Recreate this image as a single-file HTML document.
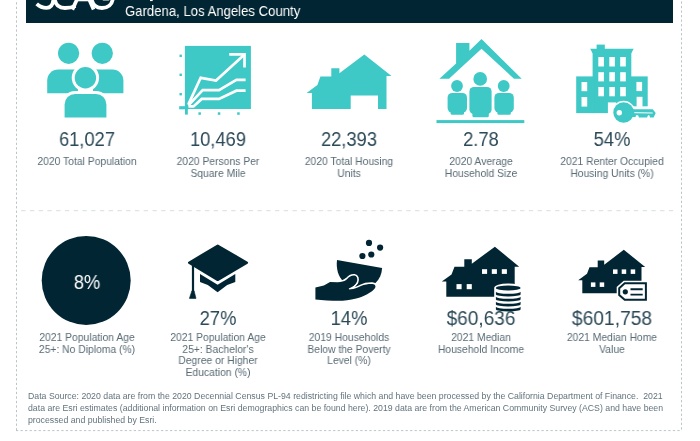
<!DOCTYPE html>
<html><head><meta charset="utf-8">
<style>
html,body{margin:0;padding:0;background:#fff;}
body{width:700px;height:441px;position:relative;overflow:hidden;font-family:"Liberation Sans",sans-serif;}
.hdr{position:absolute;left:25.85px;top:0;width:646.9px;height:22.65px;background:#022533;}
.title{position:absolute;left:125.4px;top:0.5px;font-size:14.6px;line-height:20px;color:#fff;white-space:nowrap;transform:scaleX(0.90);transform-origin:0 0}
.num{position:absolute;width:130px;text-align:center;font-size:19.5px;line-height:20px;color:#2c4957;white-space:nowrap;transform:scaleX(0.94)}
.lbl{position:absolute;width:130px;text-align:center;font-size:11px;line-height:11.7px;color:#596b75;white-space:nowrap;transform:scaleX(0.94)}
.foot{position:absolute;left:27.6px;top:390.5px;font-size:8.4px;line-height:11.9px;color:#62737d;white-space:nowrap;transform:scaleX(1.043);transform-origin:0 0}
svg{position:absolute;left:0;top:0;}
.num,.lbl,.foot,.title{will-change:transform;}
</style></head><body>
<div class="hdr"></div>
<div class="title">Gardena, Los Angeles County</div>

<svg width="700" height="441" viewBox="0 0 700 441">
<!-- borders -->
<g fill="none" stroke="#bcc3c7" stroke-width="1" stroke-dasharray="2.25 2.28">
<path d="M16.5,-2.27V431"/><path d="M681.5,-3.1V431"/><path d="M16,430.6H682"/>
</g>
<path d="M21.15,210.6H673.2" fill="none" stroke="#e0e4e5" stroke-width="1.3" stroke-dasharray="4.35 4.403"/>

<!-- ROW1 ICONS -->
<g id="people" fill="#3ec8c6">
<circle cx="68.6" cy="53.3" r="10.6"/><circle cx="102.3" cy="53.3" r="10.6"/>
<path d="M47.2,93.2V80.6a11,11 0 0 1 11,-11H78V93.2Z"/>
<path d="M123.4,93.2V80.6a11,11 0 0 0 -11,-11H93V93.2Z"/>
<circle cx="85.4" cy="77.8" r="13.7" fill="#fff" />
<path d="M61.6,118V104.4a13.5,13.5 0 0 1 13.5,-13.5H95.9a13.5,13.5 0 0 1 13.5,13.5V118Z" fill="#fff"/>
<circle cx="85.4" cy="77.8" r="10.7"/>
<path d="M64.6,117.6V104.4a10.5,10.5 0 0 1 10.5,-10.5H95.9a10.5,10.5 0 0 1 10.5,10.5V117.6Z"/>
</g>
<g id="chart">
<rect x="184.9" y="45.9" width="66" height="63.1" fill="#3ec8c6"/>
<rect x="179.2" y="106.2" width="9" height="3.1" fill="#3ec8c6"/>
<rect x="185" y="105" width="2.8" height="9.6" fill="#3ec8c6"/>
<g fill="#3ec8c6">
<rect x="179.5" y="54.6" width="2.4" height="2.4"/><rect x="179.5" y="73.6" width="2.4" height="2.4"/><rect x="179.5" y="93" width="2.4" height="2.4"/>
<rect x="198.4" y="112.3" width="2.5" height="2.5"/><rect x="217.8" y="112.3" width="2.5" height="2.5"/><rect x="237.2" y="112.3" width="2.5" height="2.5"/>
</g>
<g fill="none" stroke="#fff" stroke-width="2.7" stroke-linejoin="miter">
<path d="M188.4,104.4L200.7,77.8L216,80.5L244.5,54.4"/>
<path d="M229.2,54.4H244.5V67.6"/>
<path d="M188.4,105.4L202.7,90.1H219L236.4,79.9H245.6"/>
<path d="M188.4,106.4H193.5L201.7,98.9H219L236.4,90.7H245.6"/>
</g>
</g>
<path id="house" fill="#3ec8c6" d="M306.6,92.9L317.4,85L320.4,76.4H331.3V68.2H339.4V73.3L364.3,54.4L391.5,76.1H386.5V109.1H378V95.6H350.7V109.1H311.9V92.9Z"/>
<g id="family" fill="#3ec8c6">
<path d="M439.4,78.8L456.1,63.6V43.1H469.4V50.7L481.5,39.1L521.7,78.8H514L481.5,48.8L449,78.8Z"/>
<circle cx="480.2" cy="78.9" r="6.8"/><rect x="469.4" y="87" width="22.2" height="27" rx="4.5"/><rect x="472.4" y="110" width="16.4" height="7.2" rx="1.5"/>
<circle cx="457" cy="86" r="5.9"/><rect x="447.6" y="93" width="19.4" height="19.6" rx="4.5"/><rect x="450.6" y="108" width="13.4" height="6.8" rx="1.5"/>
<circle cx="503.7" cy="86" r="5.9"/><rect x="494.4" y="93" width="19.4" height="19.6" rx="4.5"/><rect x="497.4" y="108" width="13.4" height="6.8" rx="1.5"/>
<rect x="436.5" y="120.1" width="87.8" height="3"/>
</g>
<g id="bldg">
<g fill="#3ec8c6">
<rect x="596.6" y="44.6" width="8.2" height="5"/>
<path d="M590.2,48.7H633.7L631.3,53.2H592.6Z"/>
<rect x="592.6" y="51" width="38.7" height="62.1"/>
<rect x="576.2" y="76.4" width="18" height="36.7"/>
<rect x="630" y="76.4" width="17.7" height="29.9"/>
</g>
<g fill="#fff">
<rect x="598.3" y="57" width="5.6" height="9.5"/><rect x="609.3" y="57" width="5.6" height="9.5"/><rect x="620.2" y="57" width="5.6" height="9.5"/>
<rect x="598.3" y="72.2" width="5.6" height="9.2"/><rect x="609.3" y="72.2" width="5.6" height="9.2"/><rect x="620.2" y="72.2" width="5.6" height="9.2"/>
<rect x="598.3" y="87" width="5.6" height="9.3"/><rect x="609.3" y="87" width="5.6" height="9.3"/><rect x="620.2" y="87" width="5.6" height="9.3"/>
<rect x="581.5" y="82" width="5.7" height="9.2"/><rect x="581.5" y="97" width="5.7" height="9.6"/>
<rect x="636.4" y="81.9" width="5.7" height="9.2"/><rect x="636.6" y="96.8" width="5.9" height="10"/><rect x="607.9" y="102.4" width="8.3" height="12"/>
</g>
<g stroke="#fff" stroke-width="3" fill="#fff" stroke-linejoin="round">
<circle cx="623.6" cy="112.5" r="10.3"/>
<path d="M631,109.3H652.7L655.7,113.1L653.6,117.4H650.1L649.3,115.3H648L647.1,117.4H639L638.1,115.3H636L635.6,117H631Z"/>
</g>
<g fill="#3ec8c6">
<circle cx="623.6" cy="112.5" r="10.3"/>
<path d="M631,109.3H652.7L655.7,113.1L653.6,117.4H650.1L649.3,115.3H648L647.1,117.4H639L638.1,115.3H636L635.6,117H631Z"/>
</g>
<circle cx="619.3" cy="112.7" r="2.7" fill="#fff"/>
<path d="M634.3,112.7L652.7,113" stroke="#fff" stroke-width="1" fill="none"/>
</g>
<!-- ROW2 ICONS -->
<circle cx="86.2" cy="280.45" r="44.5" fill="#022533"/>
<g id="cap" fill="#022533">
<path d="M200,273.9L217.6,284.7L235.3,273.9V282L227.2,285.1L217.6,292.2L207.8,285.1L200,282Z"/>
<path d="M189.2,262.7L217.7,245.7L246.9,262.7L217.7,279.9Z" stroke="#fff" stroke-width="5.2" stroke-linejoin="round"/>
<path d="M189.2,262.7L217.7,245.7L246.9,262.7L217.7,279.9Z" stroke="#022533" stroke-width="2.4" stroke-linejoin="round"/>
<rect x="191.9" y="263" width="2.2" height="29"/>
<path d="M191.9,290.8H194.1L196,298.4H189.4Z" stroke="#022533" stroke-width="0.6" stroke-linejoin="round"/>
</g>
<g id="pov" fill="#022533">
<circle cx="369" cy="242.9" r="3.1"/><circle cx="380.1" cy="247.6" r="3.1"/><circle cx="371.3" cy="254.5" r="3.1"/><circle cx="362.4" cy="256" r="3.1"/>
<path d="M 337.0 259.9 L 382.1 268.1 C 381.8 273.8 379.7 279.2 375.5 283.0 L 356.2 286.9 L 343.1 280.7 C 338.5 276.8 335.9 269.1 337.0 259.9 Z"/>
<path d="M 315.4 287.6 L 323.9 285.6 L 330.0 281.9 L 337.7 282.2 C 340.8 282.2 344.7 281.5 347.0 279.2 C 349.3 276.4 351.6 275.3 354.4 275.5 C 357.0 275.8 358.1 279.2 356.7 282.2 C 355.5 285.0 352.4 286.9 348.5 288.9 C 351.6 289.9 356.2 288.7 360.9 286.1 C 364.7 284.1 369.3 283.8 372.4 283.9 C 375.5 284.1 376.3 286.6 374.7 288.4 C 371.7 292.3 363.9 296.4 356.2 298.4 C 350.1 300.0 343.9 300.7 338.5 300.7 C 331.6 300.7 322.3 300.1 315.4 299.4 Z" stroke="#fff" stroke-width="3.2" stroke-linejoin="round"/>
<path d="M 315.4 287.6 L 323.9 285.6 L 330.0 281.9 L 337.7 282.2 C 340.8 282.2 344.7 281.5 347.0 279.2 C 349.3 276.4 351.6 275.3 354.4 275.5 C 357.0 275.8 358.1 279.2 356.7 282.2 C 355.5 285.0 352.4 286.9 348.5 288.9 C 351.6 289.9 356.2 288.7 360.9 286.1 C 364.7 284.1 369.3 283.8 372.4 283.9 C 375.5 284.1 376.3 286.6 374.7 288.4 C 371.7 292.3 363.9 296.4 356.2 298.4 C 350.1 300.0 343.9 300.7 338.5 300.7 C 331.6 300.7 322.3 300.1 315.4 299.4 Z"/>
<path d="M349.3,288.8Q354.5,287.3 357.3,283" stroke="#fff" stroke-width="1.2" fill="none"/>
</g>
<g id="inc">
<path fill="#022533" d="M441.8,281.4L451.5,274.6L454.5,266.7H464.3V259.2H471.8V263.7L494.9,246.7L519.2,266.7H514.7V296.7H446.3V281.4Z"/>
<g fill="#fff">
<rect x="482" y="269.2" width="5.1" height="4.7"/><rect x="491.8" y="269.2" width="5.1" height="4.7"/><rect x="501.8" y="269.2" width="5.1" height="4.7"/>
<rect x="456.5" y="284.1" width="5.1" height="5.1"/><rect x="466.7" y="284.1" width="5.1" height="5.1"/>
</g>
<path d="M494.2,288a13.9,4.6 0 0 1 27.8,0V309a13.9,3 0 0 1 -27.8,0Z" fill="#fff"/>
<ellipse cx="508.2" cy="288" rx="12.35" ry="2.4" fill="#022533"/>
<path d="M495.9,291.8A12.35,1.9 0 0 0 520.6,291.8V294.5A12.35,1.9 0 0 1 495.9,294.5Z" fill="#022533"/>
<path d="M495.9,296.8A12.35,1.9 0 0 0 520.6,296.8V299.5A12.35,1.9 0 0 1 495.9,299.5Z" fill="#022533"/>
<path d="M495.9,301.8A12.35,1.9 0 0 0 520.6,301.8V304.5A12.35,1.9 0 0 1 495.9,304.5Z" fill="#022533"/>
<path d="M495.9,306.8A12.35,1.9 0 0 0 520.6,306.8V309.5A12.35,1.9 0 0 1 495.9,309.5Z" fill="#022533"/>
</g>
<g id="val">
<path fill="#022533" d="M578.2,280.2L587,273.8L589.5,267.3H597.7V260.6H604.2V264.7L623.8,249.8L645.2,266.9H641.5V293.3H582.3V280.2Z"/>
<g fill="#fff">
<rect x="613" y="269.4" width="4.5" height="4.5"/><rect x="621.7" y="269.4" width="4.5" height="4.5"/><rect x="630.7" y="269.4" width="4.5" height="4.5"/>
<rect x="590.9" y="282.4" width="4.5" height="4.5"/><rect x="599.7" y="282.4" width="4.5" height="4.5"/>
</g>
<path d="M618.2,287.7L624.3,282.3H646.9V300.8H624.3L618.2,295.6Z" fill="#fff" stroke="#fff" stroke-width="3"/>
<path d="M619.2,288.2L624.7,283.3H645.9V299.8H624.7L619.2,295.1Z" fill="#fff" stroke="#022533" stroke-width="2"/>
<circle cx="625.3" cy="291.8" r="2.6" fill="#022533"/>
<path d="M630.5,289.3H642.7M630.5,294.6H642.7" stroke="#022533" stroke-width="1.9" fill="none"/>
</g>
<!-- logo -->
<g fill="none" stroke="#fff" stroke-width="3.8" stroke-linecap="butt">
<path d="M36.7,3.9C40,7 43,7.9 46.5,7.9C50.5,7.9 53,5 53.5,-1"/>
<path d="M54.7,-1C55.5,5 59,8 65,8C69,8 72,7.5 75.5,6"/>
<path d="M72.3,9.6L77.2,-1" stroke-width="3.7"/>
<path d="M89,-1L93.6,9.6" stroke-width="3.7"/>
<path d="M91.6,-1C92.5,4.5 96,8 102,8C108,8 112,4.5 112.8,-1"/>
</g>
<rect x="77.5" y="0" width="11" height="1.3" fill="#fff"/>
<rect x="150" y="0" width="2.7" height="1.1" fill="#fff"/>
<rect x="102.8" y="0" width="6.4" height="0.9" fill="#8d9ca3"/>
</svg>

<div class="num" style="left:21.5px;top:129.2px">61,027</div>
<div class="lbl" style="left:21.5px;top:156.2px">2020 Total Population</div>
<div class="num" style="left:153px;top:129.2px">10,469</div>
<div class="lbl" style="left:153px;top:156.2px">2020 Persons Per<br>Square Mile</div>
<div class="num" style="left:284.3px;top:129.2px">22,393</div>
<div class="lbl" style="left:284.3px;top:156.2px">2020 Total Housing<br>Units</div>
<div class="num" style="left:415.5px;top:129.2px">2.78</div>
<div class="lbl" style="left:415.5px;top:156.2px">2020 Average<br>Household Size</div>
<div class="num" style="left:546.5px;top:129.2px">54%</div>
<div class="lbl" style="left:546.5px;top:156.2px">2021 Renter Occupied<br>Housing Units (%)</div>
<div class="lbl" style="left:21.5px;top:331.6px">2021 Population Age<br>25+: No Diploma (%)</div>
<div class="num" style="left:153px;top:307.6px">27%</div>
<div class="lbl" style="left:153px;top:331.6px">2021 Population Age<br>25+: Bachelor's<br>Degree or Higher<br>Education (%)</div>
<div class="num" style="left:284.3px;top:307.6px">14%</div>
<div class="lbl" style="left:284.3px;top:331.6px">2019 Households<br>Below the Poverty<br>Level (%)</div>
<div class="num" style="left:415.5px;top:307.6px;transform:scaleX(0.975)">$60,636</div>
<div class="lbl" style="left:415.5px;top:331.6px">2021 Median<br>Household Income</div>
<div class="num" style="left:546.5px;top:307.6px;transform:scaleX(0.985)">$601,758</div>
<div class="lbl" style="left:546.5px;top:331.6px">2021 Median Home<br>Value</div>
<div class="num" style="left:21.5px;top:271.5px;color:#fff">8%</div>
<div class="foot">Data Source: 2020 data are from the 2020 Decennial Census PL-94 redistricting file which and have been processed by the California Department of Finance.&nbsp; 2021<br>data are Esri estimates (additional information on Esri demographics can be found here). 2019 data are from the American Community Survey (ACS) and have been<br>processed and published by Esri.</div>
</body></html>
